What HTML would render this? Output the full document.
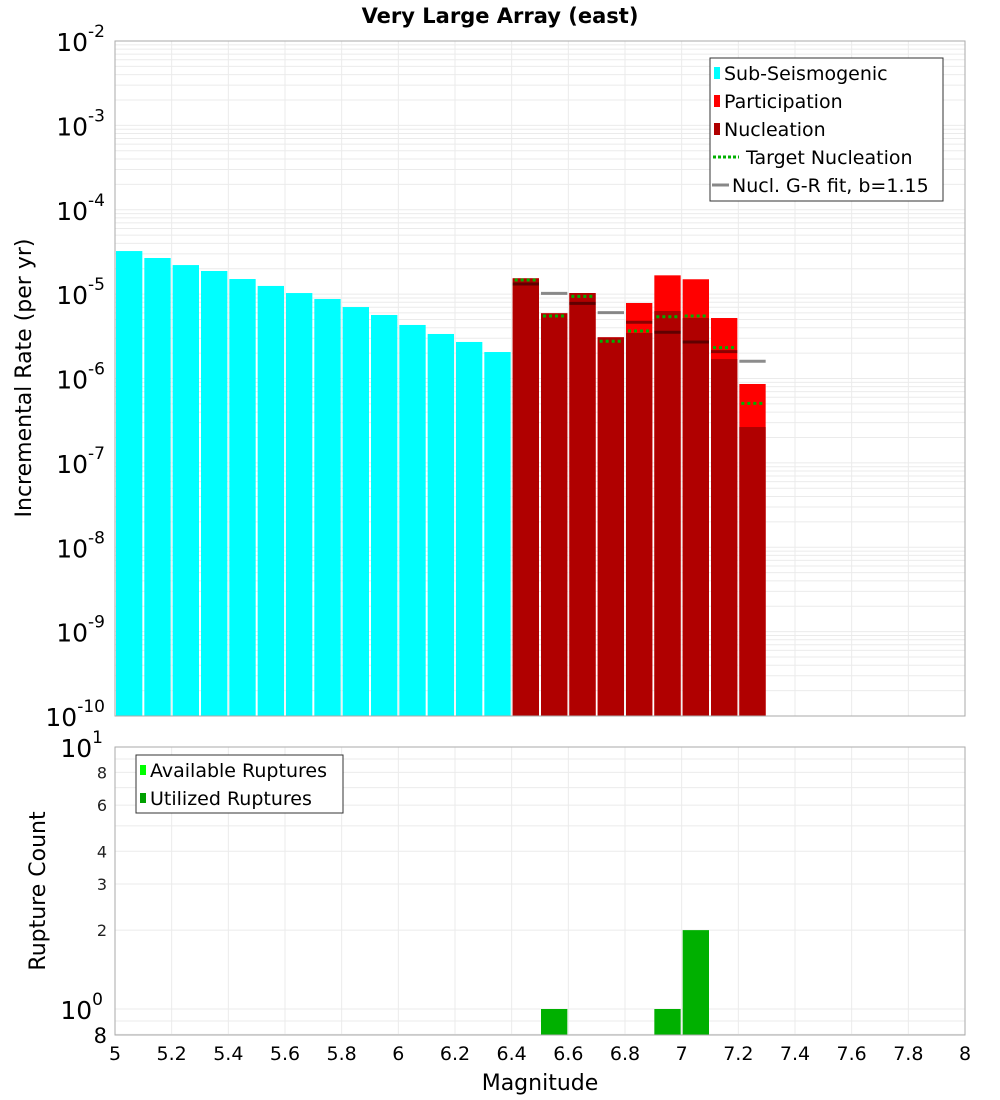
<!DOCTYPE html>
<html><head><meta charset="utf-8"><style>
body{margin:0;background:#fff;}
svg{display:block;font-family:"DejaVu Sans","Liberation Sans",sans-serif;}
</style></head><body>
<svg id="c" width="1000" height="1100" viewBox="0 0 1000 1100">
<text x="500" y="23" text-anchor="middle" font-size="21" font-weight="bold">Very Large Array (east)</text>
<g id="topg"></g>
<g id="botg"></g>
<text x="31" y="378" transform="rotate(-90 31 378)" text-anchor="middle" font-size="22">Incremental Rate (per yr)</text>
<text x="45" y="891" transform="rotate(-90 45 891)" text-anchor="middle" font-size="22">Rupture Count</text>
<text x="540" y="1090" text-anchor="middle" font-size="22">Magnitude</text>
</svg>
<script>
const subMags=[5.05,5.15,5.25,5.35,5.45,5.55,5.65,5.75,5.85,5.95,6.05,6.15,6.25,6.35];
const subRates=[3.24e-5,2.68e-5,2.21e-5,1.88e-5,1.51e-5,1.25e-5,1.03e-5,8.75e-6,7.03e-6,5.66e-6,4.31e-6,3.37e-6,2.71e-6,2.06e-6];
const supMags=[6.45,6.55,6.65,6.75,6.85,6.95,7.05,7.15,7.25];
const partRates=[1.54e-5,5.93e-6,1.03e-5,3.08e-6,7.85e-6,1.67e-5,1.50e-5,5.21e-6,8.61e-7];
const nuclRates=[1.54e-5,5.93e-6,1.03e-5,3.08e-6,3.46e-6,6.31e-6,5.21e-6,1.70e-6,2.66e-7];
const targetRates=[1.47e-5,5.5e-6,9.42e-6,2.76e-6,3.66e-6,5.39e-6,5.5e-6,2.32e-6,5.08e-7];
const grRates=[1.32e-5,1.02e-5,7.78e-6,6.03e-6,4.64e-6,3.53e-6,2.71e-6,2.08e-6,1.60e-6];
const countMags=[6.55,6.95,7.05];
const countVals=[1,1,2];
const xTicks=[5,5.2,5.4,5.6,5.8,6,6.2,6.4,6.6,6.8,7,7.2,7.4,7.6,7.8,8];
const topExps=[-2,-3,-4,-5,-6,-7,-8,-9,-10];
const botMinor=[8,6,4,3,2];

const NS='http://www.w3.org/2000/svg';
const X0=115,X1=965;
const xs=m=>X0+(m-5)/3*(X1-X0);
const TY0=41,TY1=716;
const yt=v=>TY0+(-2-Math.log10(v))*(TY1-TY0)/8;
const BY0=747,BY1=1035;
const yb=v=>BY0+(1-Math.log10(v))*262;
function mk(p,t,a,txt){const e=document.createElementNS(NS,t);for(const k in a)e.setAttribute(k,a[k]);if(txt!==undefined)e.textContent=txt;p.appendChild(e);return e;}
const topG=document.getElementById('topg'),botG=document.getElementById('botg');

for(let e=-10;e<-2;e++)for(let k=1;k<10;k++){const y=yt(k*Math.pow(10,e));
 const l=mk(topG,'line',{x1:X0,x2:X1,y1:y,y2:y,stroke:'#ebebeb','stroke-width':1});
 
 }
for(const t of xTicks){const l=mk(topG,'line',{x1:xs(t),x2:xs(t),y1:TY0,y2:TY1,stroke:'#ebebeb'});
 
 
 const l2=mk(botG,'line',{x1:xs(t),x2:xs(t),y1:BY0,y2:BY1,stroke:'#ebebeb'});
 
 }
for(const v of [10,9,8,7,6,5,4,3,2,1,0.9,0.8]){const y=yb(v);if(y>BY1+0.5)continue;
 const l=mk(botG,'line',{x1:X0,x2:X1,y1:y,y2:y,stroke:'#ebebeb'});
 
 }

subMags.forEach((m,i)=>{const y=yt(subRates[i]);
 const r=mk(topG,'rect',{x:xs(m-0.05)+1,y:y,width:xs(m+0.05)-xs(m-0.05)-2,height:TY1-y,fill:'#00ffff'});
 
 });
supMags.forEach((m,i)=>{const x=xs(m-0.05)+1,w=xs(m+0.05)-xs(m-0.05)-2;
 const y=yt(partRates[i]);
 const r=mk(topG,'rect',{x:x,y:y,width:w,height:TY1-y,fill:'#ff0000'});
 
 
 const y2=yt(nuclRates[i]);
 const r2=mk(topG,'rect',{x:x,y:y2,width:w,height:TY1-y2,fill:'#b00000'});
 
 });
supMags.forEach((m,i)=>{const x=xs(m-0.05)+1,w=xs(m+0.05)-xs(m-0.05)-2;
 const y=yt(grRates[i]);
 const g=mk(topG,'line',{x1:x,x2:x+w,y1:y,y2:y,stroke:'rgba(0,0,0,0.45)','stroke-width':3});
 
 
 const yT=yt(targetRates[i]);
 const t=mk(topG,'line',{x1:x+2,x2:x+w-2,y1:yT,y2:yT,stroke:'#00b000','stroke-width':3,'stroke-dasharray':'3,3'});
 
 });
mk(topG,'rect',{x:X0,y:TY0,width:X1-X0,height:TY1-TY0,fill:'none',stroke:'#aaa'});
topExps.forEach(e=>{const y=yt(Math.pow(10,e));
 const t=mk(topG,'text',{x:105,y:y+10,'text-anchor':'end','font-size':'25'});
 
 
 t.textContent='10';
 mk(t,'tspan',{dy:'-14','font-size':'17'},String(e));});

const lg=mk(topG,'g',{});
mk(lg,'rect',{x:710,y:58,width:233,height:143,fill:'#fff',stroke:'#333'});
const le=[['Sub-Seismogenic','#00ffff','box'],['Participation','#ff0000','box'],['Nucleation','#b00000','box'],['Target Nucleation','#00b000','dot'],['Nucl. G-R fit, b=1.15','#888','line']];
le.forEach((e,i)=>{const cy=73+i*28;const g=mk(lg,'g',{});
 if(e[2]=='box'){mk(g,'rect',{x:714,y:cy-6,width:6,height:12,fill:e[1]});mk(g,'text',{x:724,y:cy+7,'font-size':'19'},e[0]);}
 else if(e[2]=='dot'){mk(g,'line',{x1:713,x2:739,y1:cy,y2:cy,stroke:e[1],'stroke-width':3,'stroke-dasharray':'3,2'});mk(g,'text',{x:746,y:cy+7,'font-size':'19'},e[0]);}
 else {mk(g,'line',{x1:712,x2:729,y1:cy,y2:cy,stroke:e[1],'stroke-width':3});mk(g,'text',{x:732,y:cy+7,'font-size':'19'},e[0]);}
});

countMags.forEach((m,i)=>{const y=yb(countVals[i]);
 const r=mk(botG,'rect',{x:xs(m-0.05)+1,y:y,width:xs(m+0.05)-xs(m-0.05)-2,height:BY1-y,fill:'#00b000'});
 
 });
mk(botG,'rect',{x:X0,y:BY0,width:X1-X0,height:BY1-BY0,fill:'none',stroke:'#aaa'});
[1,0].forEach(e=>{const y=yb(Math.pow(10,e));
 const t=mk(botG,'text',{x:103,y:y+10,'text-anchor':'end','font-size':'25'});
 
 
 t.textContent='10';
 mk(t,'tspan',{dy:'-14','font-size':'17'},String(e));});
botMinor.forEach(v=>{const t=mk(botG,'text',{x:107,y:yb(v)+6,'text-anchor':'end','font-size':'16',fill:'#222'},String(v));
 
 });
const b8=mk(botG,'text',{x:107,y:1043,'text-anchor':'end','font-size':'21'},'8');


xTicks.forEach(t=>{const e=mk(botG,'text',{x:xs(t),y:1060,'text-anchor':'middle','font-size':'19'},String(t));
 
 });
const lb=mk(botG,'g',{});
mk(lb,'rect',{x:136,y:755,width:207,height:58,fill:'#fff',stroke:'#333'});
[['Available Ruptures','#00ff00'],['Utilized Ruptures','#00a000']].forEach((e,i)=>{const cy=770+i*28;
 const g=mk(lb,'g',{});
 mk(g,'rect',{x:140,y:cy-5,width:6,height:10,fill:e[1]});
 mk(g,'text',{x:150,y:cy+7,'font-size':'19'},e[0]);});
</script>
</body></html>
